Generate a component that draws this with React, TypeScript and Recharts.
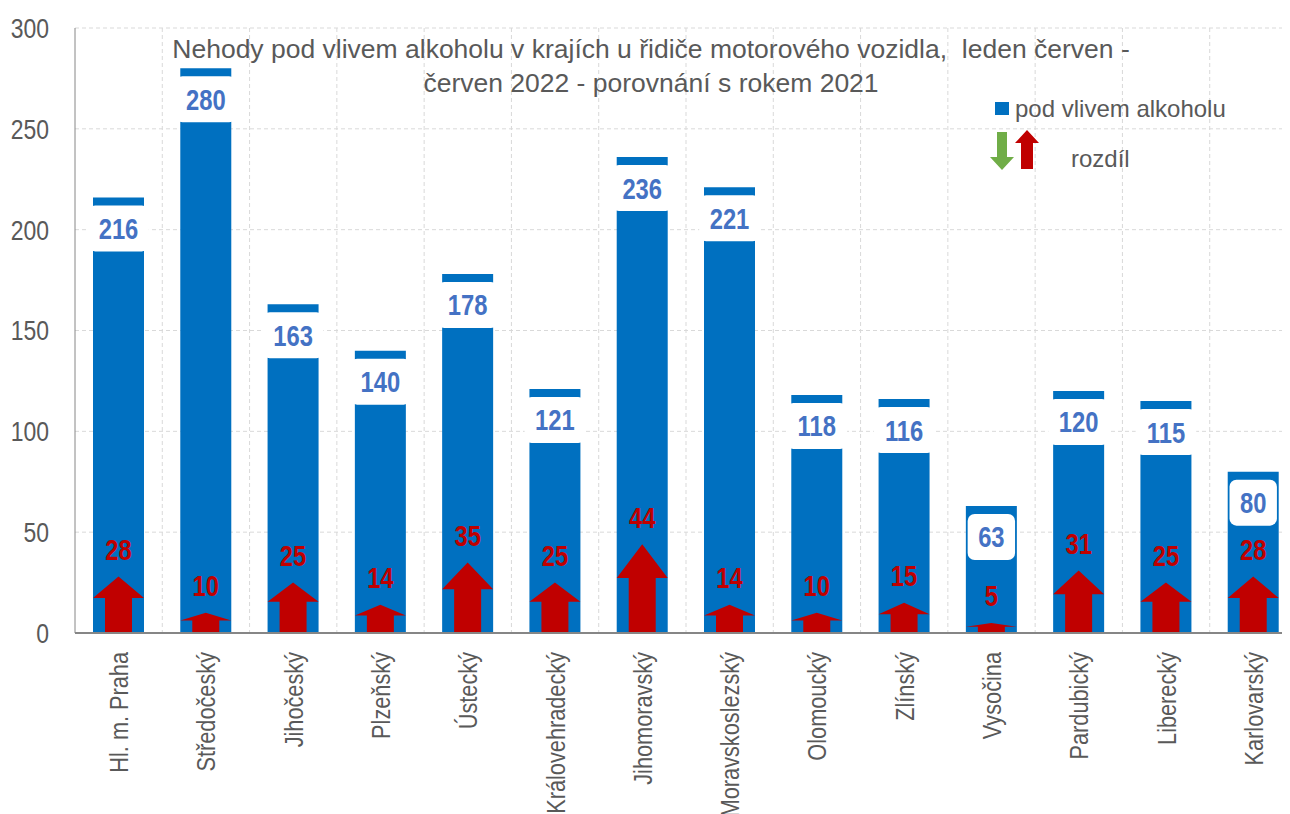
import React from 'react';
import { BarChart, Bar, XAxis, YAxis, CartesianGrid, LabelList } from 'recharts';

const categories = ['Hl. m. Praha', 'Středočeský', 'Jihočeský', 'Plzeňský', 'Ústecký', 'Královehradecký', 'Jihomoravský', 'Moravskoslezský', 'Olomoucký', 'Zlínský', 'Vysočina', 'Pardubický', 'Liberecký', 'Karlovarský'];
const alcoholValues = [216, 280, 163, 140, 178, 121, 236, 221, 118, 116, 63, 120, 115, 80];
const diffValues = [28, 10, 25, 14, 35, 25, 44, 14, 10, 15, 5, 31, 25, 28];
const yTicks = [0, 50, 100, 150, 200, 250, 300];
const titleLines = ['Nehody pod vlivem alkoholu v krajích u řidiče motorového vozidla,  leden červen -', 'červen 2022 - porovnání s rokem 2021'];
const legendBarLabel = 'pod vlivem alkoholu';
const legendDiffLabel = 'rozdíl';

const data = categories.map((name, i) => ({ name, alcohol: alcoholValues[i], diff: diffValues[i] }));

const FONT = "'Liberation Sans', Arial, sans-serif";
const SQ = 0.82; // horizontal squeeze to mimic Arial Narrow
const GRAY = '#595959';
const BLUE = '#0070C0';
const LABEL_BLUE = '#4472C4';
const RED = '#C00000';
const GREEN = '#70AD47';

const XTick = (props: any) => {
  const { x, y, payload } = props;
  return (
    <text transform={`translate(${x},${y}) rotate(-90) scale(${SQ},1)`} textAnchor="end" dy="0.36em" fill={GRAY} fontSize={26.5} fontFamily={FONT}>
      {payload.value}
    </text>
  );
};

const YTick = (props: any) => {
  const { x, y, payload } = props;
  return (
    <text transform={`translate(${x},${y}) scale(${SQ},1)`} textAnchor="end" dy="0.355em" fill={GRAY} fontSize={28} fontFamily={FONT}>
      {payload.value}
    </text>
  );
};

const BoxLabel = (props: any) => {
  const { x, y, width, value } = props;
  const s = String(value);
  const boxW = s.length * 13.2 + 21;
  const boxH = 46;
  const cx = x + width / 2;
  const top = y + 8;
  return (
    <g>
      <rect x={cx - boxW / 2} y={top} width={boxW} height={boxH} rx={7} ry={7} fill="#FFFFFF" />
      <text transform={`translate(${cx},${top + boxH / 2}) scale(${SQ},1)`} dy="0.36em" textAnchor="middle" fill={LABEL_BLUE} fontSize={29} fontWeight="bold" fontFamily={FONT}>
        {s}
      </text>
    </g>
  );
};

const Arrow = (props: any) => {
  const { x, y, width, height } = props;
  if (!height || height <= 0) return null;
  const cx = x + width / 2;
  const shaft = 27;
  const headH = height * 0.38;
  const bottom = y + height;
  const pts = [
    [cx, y],
    [x, y + headH],
    [cx - shaft / 2, y + headH],
    [cx - shaft / 2, bottom],
    [cx + shaft / 2, bottom],
    [cx + shaft / 2, y + headH],
    [x + width, y + headH],
  ].map((p) => p.join(',')).join(' ');
  return <polygon points={pts} fill={RED} />;
};

const RedLabel = (props: any) => {
  const { x, y, width, value } = props;
  return (
    <text transform={`translate(${x + width / 2},${y - 27}) scale(${SQ},1)`} dy="0.36em" textAnchor="middle" fill={RED} fontSize={29} fontWeight="bold" fontFamily={FONT}>
      {value}
    </text>
  );
};

export default function App() {
  return (
    <div style={{ position: 'relative', width: 1282, height: 806, overflow: 'hidden', background: '#fff' }}>
      <BarChart width={1300} height={806} data={data} margin={{ top: 20, right: 11, bottom: 0, left: 0 }} barSize={51}>
        <CartesianGrid
          stroke="#D9D9D9"
          strokeDasharray="4 3"
          verticalCoordinatesGenerator={({ offset }: any) =>
            categories.map((_, i) => offset.left + ((i + 1) * offset.width) / categories.length)
          }
        />
        <XAxis dataKey="name" xAxisId="a" height={181} interval={0} tick={<XTick />} tickLine={false} tickMargin={13} axisLine={{ stroke: '#868686', strokeWidth: 2 }} />
        <XAxis dataKey="name" xAxisId="b" hide />
        <YAxis
          domain={[0, 300]}
          ticks={yTicks}
          width={67}
          interval={0}
          tickLine={false}
          tickMargin={20}
          axisLine={{ stroke: '#868686' }}
          tick={<YTick />}
        />
        <Bar dataKey="alcohol" xAxisId="a" fill={BLUE} isAnimationActive={false}>
          <LabelList dataKey="alcohol" content={BoxLabel} />
        </Bar>
        <Bar dataKey="diff" xAxisId="b" shape={Arrow} isAnimationActive={false}>
          <LabelList dataKey="diff" content={RedLabel} />
        </Bar>
      </BarChart>

      <div style={{ position: 'absolute', left: 0, top: 24, width: 1286, textAlign: 'center', color: GRAY, fontFamily: FONT, fontSize: 26.5, lineHeight: '34px', whiteSpace: 'pre' }}>
        <div>{titleLines[0]}</div>
        <div>{titleLines[1]}</div>
      </div>

      <div style={{ position: 'absolute', left: 987, top: 94, width: 14, height: 13, background: BLUE }} />
      <div style={{ position: 'absolute', left: 1007, top: 89, color: GRAY, fontFamily: FONT, fontSize: 24, lineHeight: '24px', whiteSpace: 'nowrap' }}>{legendBarLabel}</div>
      <svg style={{ position: 'absolute', left: 982, top: 122 }} width={52} height={42}>
        <polygon points="7,2 17,2 17,27 24,27 12,40 0,27 7,27" fill={GREEN} />
        <polygon points="31,39 43,39 43,13 49,13 37,0 25,13 31,13" fill={RED} />
      </svg>
      <div style={{ position: 'absolute', left: 1063, top: 139, color: GRAY, fontFamily: FONT, fontSize: 24, lineHeight: '24px', whiteSpace: 'nowrap' }}>{legendDiffLabel}</div>
    </div>
  );
}
